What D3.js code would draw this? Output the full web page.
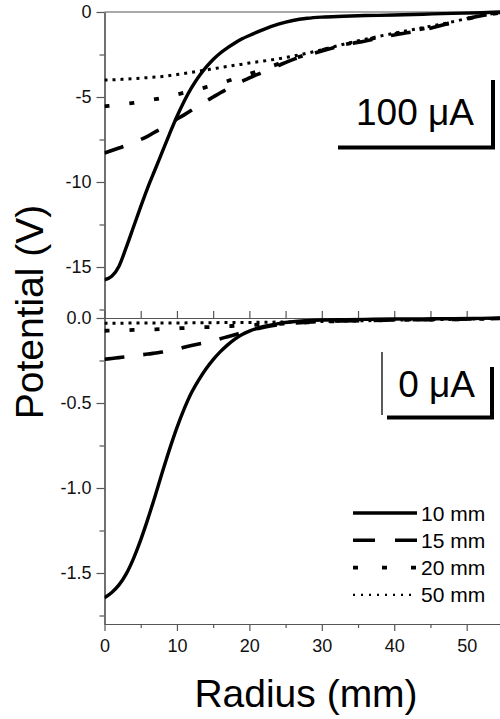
<!DOCTYPE html>
<html>
<head>
<meta charset="utf-8">
<script src="https://cdn.jsdelivr.net/npm/d3@7"></script>
<style>
  body { margin: 0; background: #fff; }
  svg { display: block; font-family: "Liberation Sans", Arial, sans-serif; }
</style>
</head>
<body>
<svg id="chart" width="500" height="719"></svg>
<script>
// radius grid (mm), shared by every curve
const radius = [0, 1, 2, 3, 4, 5, 6, 7, 8, 9, 10, 11, 12, 13, 14, 15, 16, 17, 18, 19, 20,
  22, 24, 26, 28, 30, 33, 36, 40, 44, 48, 52, 54.6];

// upper panel, 100 uA (V)
const top10 = [-15.75, -15.55, -14.95, -13.85, -12.65, -11.45, -10.3, -9.25, -8.2, -7.15, -6.15,
  -5.25, -4.47, -3.81, -3.26, -2.79, -2.41, -2.1, -1.82, -1.58, -1.38,
  -1.02, -0.72, -0.5, -0.37, -0.3, -0.25, -0.21, -0.18, -0.13, -0.08, -0.04, 0];
const top15 = [-8.3, -8.15, -8.0, -7.85, -7.65, -7.5, -7.3, -7.05, -6.85, -6.6, -6.3,
  -6.05, -5.78, -5.5, -5.25, -5.0, -4.75, -4.52, -4.28, -4.08, -3.88,
  -3.52, -3.15, -2.8, -2.55, -2.3, -1.95, -1.7, -1.35, -1.05, -0.62, -0.22, -0.05];
const top20 = [-5.55, -5.5, -5.45, -5.4, -5.35, -5.28, -5.2, -5.13, -5.05, -4.95, -4.85,
  -4.75, -4.65, -4.54, -4.42, -4.31, -4.2, -4.06, -3.92, -3.78, -3.65,
  -3.35, -3.05, -2.75, -2.5, -2.25, -1.93, -1.65, -1.3, -0.98, -0.62, -0.22, -0.05];
const top50 = [-4.0, -3.99, -3.97, -3.95, -3.92, -3.89, -3.86, -3.83, -3.79, -3.74, -3.68,
  -3.62, -3.55, -3.48, -3.41, -3.34, -3.27, -3.2, -3.13, -3.07, -3.0,
  -2.88, -2.75, -2.6, -2.42, -2.22, -1.9, -1.6, -1.25, -0.92, -0.58, -0.2, -0.04];

// lower panel, 0 uA (V)
const bot10 = [-1.646, -1.615, -1.57, -1.505, -1.415, -1.305, -1.18, -1.045, -0.905, -0.77, -0.645,
  -0.535, -0.44, -0.365, -0.3, -0.245, -0.198, -0.158, -0.124, -0.097, -0.077,
  -0.05, -0.033, -0.022, -0.016, -0.012, -0.01, -0.008, -0.006, -0.005, -0.004, -0.002, 0];
const bot15 = [-0.243, -0.238, -0.233, -0.228, -0.222, -0.217, -0.212, -0.206, -0.2, -0.192, -0.184,
  -0.172, -0.162, -0.153, -0.145, -0.135, -0.122, -0.11, -0.098, -0.086, -0.075,
  -0.055, -0.04, -0.03, -0.024, -0.02, -0.017, -0.015, -0.012, -0.01, -0.008, -0.005, -0.003];
const bot20 = [-0.075, -0.074, -0.073, -0.072, -0.07, -0.069, -0.068, -0.067, -0.065, -0.063, -0.061,
  -0.059, -0.057, -0.055, -0.054, -0.052, -0.05, -0.048, -0.046, -0.044, -0.042,
  -0.038, -0.034, -0.03, -0.026, -0.022, -0.018, -0.015, -0.012, -0.01, -0.008, -0.005, -0.003];
const bot50 = [-0.031, -0.031, -0.031, -0.03, -0.03, -0.03, -0.03, -0.03, -0.029, -0.029, -0.029,
  -0.029, -0.028, -0.028, -0.028, -0.028, -0.027, -0.027, -0.027, -0.026, -0.026,
  -0.025, -0.024, -0.023, -0.022, -0.02, -0.018, -0.016, -0.012, -0.01, -0.008, -0.004, -0.002];

const seriesNames = ["10 mm", "15 mm", "20 mm", "50 mm"];
const panelLabels = ["100 \u03bcA", "0 \u03bcA"];

const xTicks = [0, 10, 20, 30, 40, 50];
const xMinor = [5, 15, 25, 35, 45];
const topTicks = [0, -5, -10, -15];
const topMinor = [-2.5, -7.5, -12.5, -17.5];
const botTicks = [0, -0.5, -1.0, -1.5];
const botMinor = [-0.25, -0.75, -1.25, -1.75];

// ---- drawing ----
const svg = d3.select("#chart");
const axisColor = "#555";
const left = 104.5, right = 500;

const x = d3.scaleLinear().domain([0, 54.6]).range([left, right]);
const yTop = d3.scaleLinear().domain([-18, 0]).range([318, 12]);
const yBot = d3.scaleLinear().domain([-1.8, 0]).range([624, 318]);

// plain hyphen for negatives, like the original
const hy = (f) => (v) => f(v).replace("\u2212", "-");

// line styles for 10 / 15 / 20 / 50 mm
const styles = [
  { dash: null, w: 3.4 },
  { dash: "20,19", w: 3.6 },
  { dash: "5,20", w: 3.8 },
  { dash: "3,5", w: 3 },
];

const defs = svg.append("defs");
defs.append("clipPath").attr("id", "clipTop").append("rect")
  .attr("x", left).attr("y", 10).attr("width", right - left).attr("height", 308);
defs.append("clipPath").attr("id", "clipBot").append("rect")
  .attr("x", left).attr("y", 316).attr("width", right - left).attr("height", 308);

function drawCurves(yScale, series, clip) {
  const line = d3.line().x((d, i) => x(radius[i])).y((d) => yScale(d)).curve(d3.curveMonotoneX);
  const g = svg.append("g").attr("clip-path", `url(#${clip})`);
  series.forEach((vals, k) => {
    g.append("path")
      .attr("d", line(vals))
      .attr("fill", "none")
      .attr("stroke", "#000")
      .attr("stroke-width", styles[k].w)
      .attr("stroke-dasharray", styles[k].dash);
  });
}

function styleAxis(g) {
  g.select(".domain").attr("stroke", axisColor).attr("stroke-width", 1.2);
  g.selectAll(".tick line").attr("stroke", axisColor).attr("stroke-width", 1.2);
  g.selectAll(".tick text").attr("fill", "#111").style("font-size", "18px")
    .style("font-family", "'Liberation Sans', Arial, sans-serif");
}

function leftAxis(yScale, ticks, minor, fmt) {
  const g = svg.append("g").attr("transform", `translate(${left},0)`);
  g.call(d3.axisLeft(yScale).tickValues(ticks).tickFormat(fmt).tickSize(8).tickPadding(5).tickSizeOuter(0));
  styleAxis(g);
  const m = svg.append("g").attr("transform", `translate(${left},0)`);
  m.call(d3.axisLeft(yScale).tickValues(minor).tickFormat("").tickSize(5).tickSizeOuter(0));
  styleAxis(m);
}

// top frame line and panel separator
svg.append("line").attr("x1", left).attr("x2", right).attr("y1", yTop(0)).attr("y2", yTop(0))
  .attr("stroke", axisColor).attr("stroke-width", 1.2);
const sep = svg.append("g").attr("transform", `translate(0,${yBot(0)})`);
sep.call(d3.axisTop(x).tickValues(xTicks.concat(xMinor)).tickFormat("").tickSize(7).tickSizeOuter(0));
styleAxis(sep);

leftAxis(yTop, topTicks, topMinor, hy(d3.format("d")));
leftAxis(yBot, botTicks, botMinor, hy(d3.format(".1f")));

// bottom x axis
const xg = svg.append("g").attr("transform", `translate(0,${yBot(-1.8)})`);
xg.call(d3.axisBottom(x).tickValues(xTicks).tickFormat(d3.format("d")).tickSize(7).tickPadding(8).tickSizeOuter(0));
styleAxis(xg);
const xm = svg.append("g").attr("transform", `translate(0,${yBot(-1.8)})`);
xm.call(d3.axisBottom(x).tickValues(xMinor).tickFormat("").tickSize(4).tickSizeOuter(0));
styleAxis(xm);

drawCurves(yTop, [top10, top15, top20, top50], "clipTop");
drawCurves(yBot, [bot10, bot15, bot20, bot50], "clipBot");

// axis titles
svg.append("text").attr("transform", "translate(43,312) rotate(-90)")
  .attr("text-anchor", "middle").style("font-size", "39px").text("Potential (V)");
svg.append("text").attr("x", 306).attr("y", 707)
  .attr("text-anchor", "middle").style("font-size", "39px").text("Radius (mm)");

// current labels with brackets
svg.append("text").attr("x", 474).attr("y", 125).attr("text-anchor", "end")
  .style("font-size", "37px").text(panelLabels[0]);
svg.append("path").attr("d", "M338,147.5H493V80").attr("fill", "none")
  .attr("stroke", "#000").attr("stroke-width", 4);

svg.append("text").attr("x", 475).attr("y", 397).attr("text-anchor", "end")
  .style("font-size", "37px").text(panelLabels[1]);
svg.append("line").attr("x1", 382).attr("x2", 382).attr("y1", 352).attr("y2", 415)
  .attr("stroke", "#000").attr("stroke-width", 1.3);
svg.append("path").attr("d", "M387,417.5H492V367").attr("fill", "none")
  .attr("stroke", "#000").attr("stroke-width", 4);

// legend
const leg = svg.append("g");
seriesNames.forEach((name, k) => {
  const yy = 513 + k * 27.3;
  leg.append("line").attr("x1", 353).attr("x2", 417).attr("y1", yy).attr("y2", yy)
    .attr("stroke", "#000").attr("stroke-width", k === 3 ? 2.4 : styles[k].w)
    .attr("stroke-dasharray", k === 1 ? "22,20" : k === 2 ? "5,24" : k === 3 ? "2,6" : null);
  leg.append("text").attr("x", 421).attr("y", yy + 7.5).style("font-size", "21px").text(name);
});
</script>
</body>
</html>
